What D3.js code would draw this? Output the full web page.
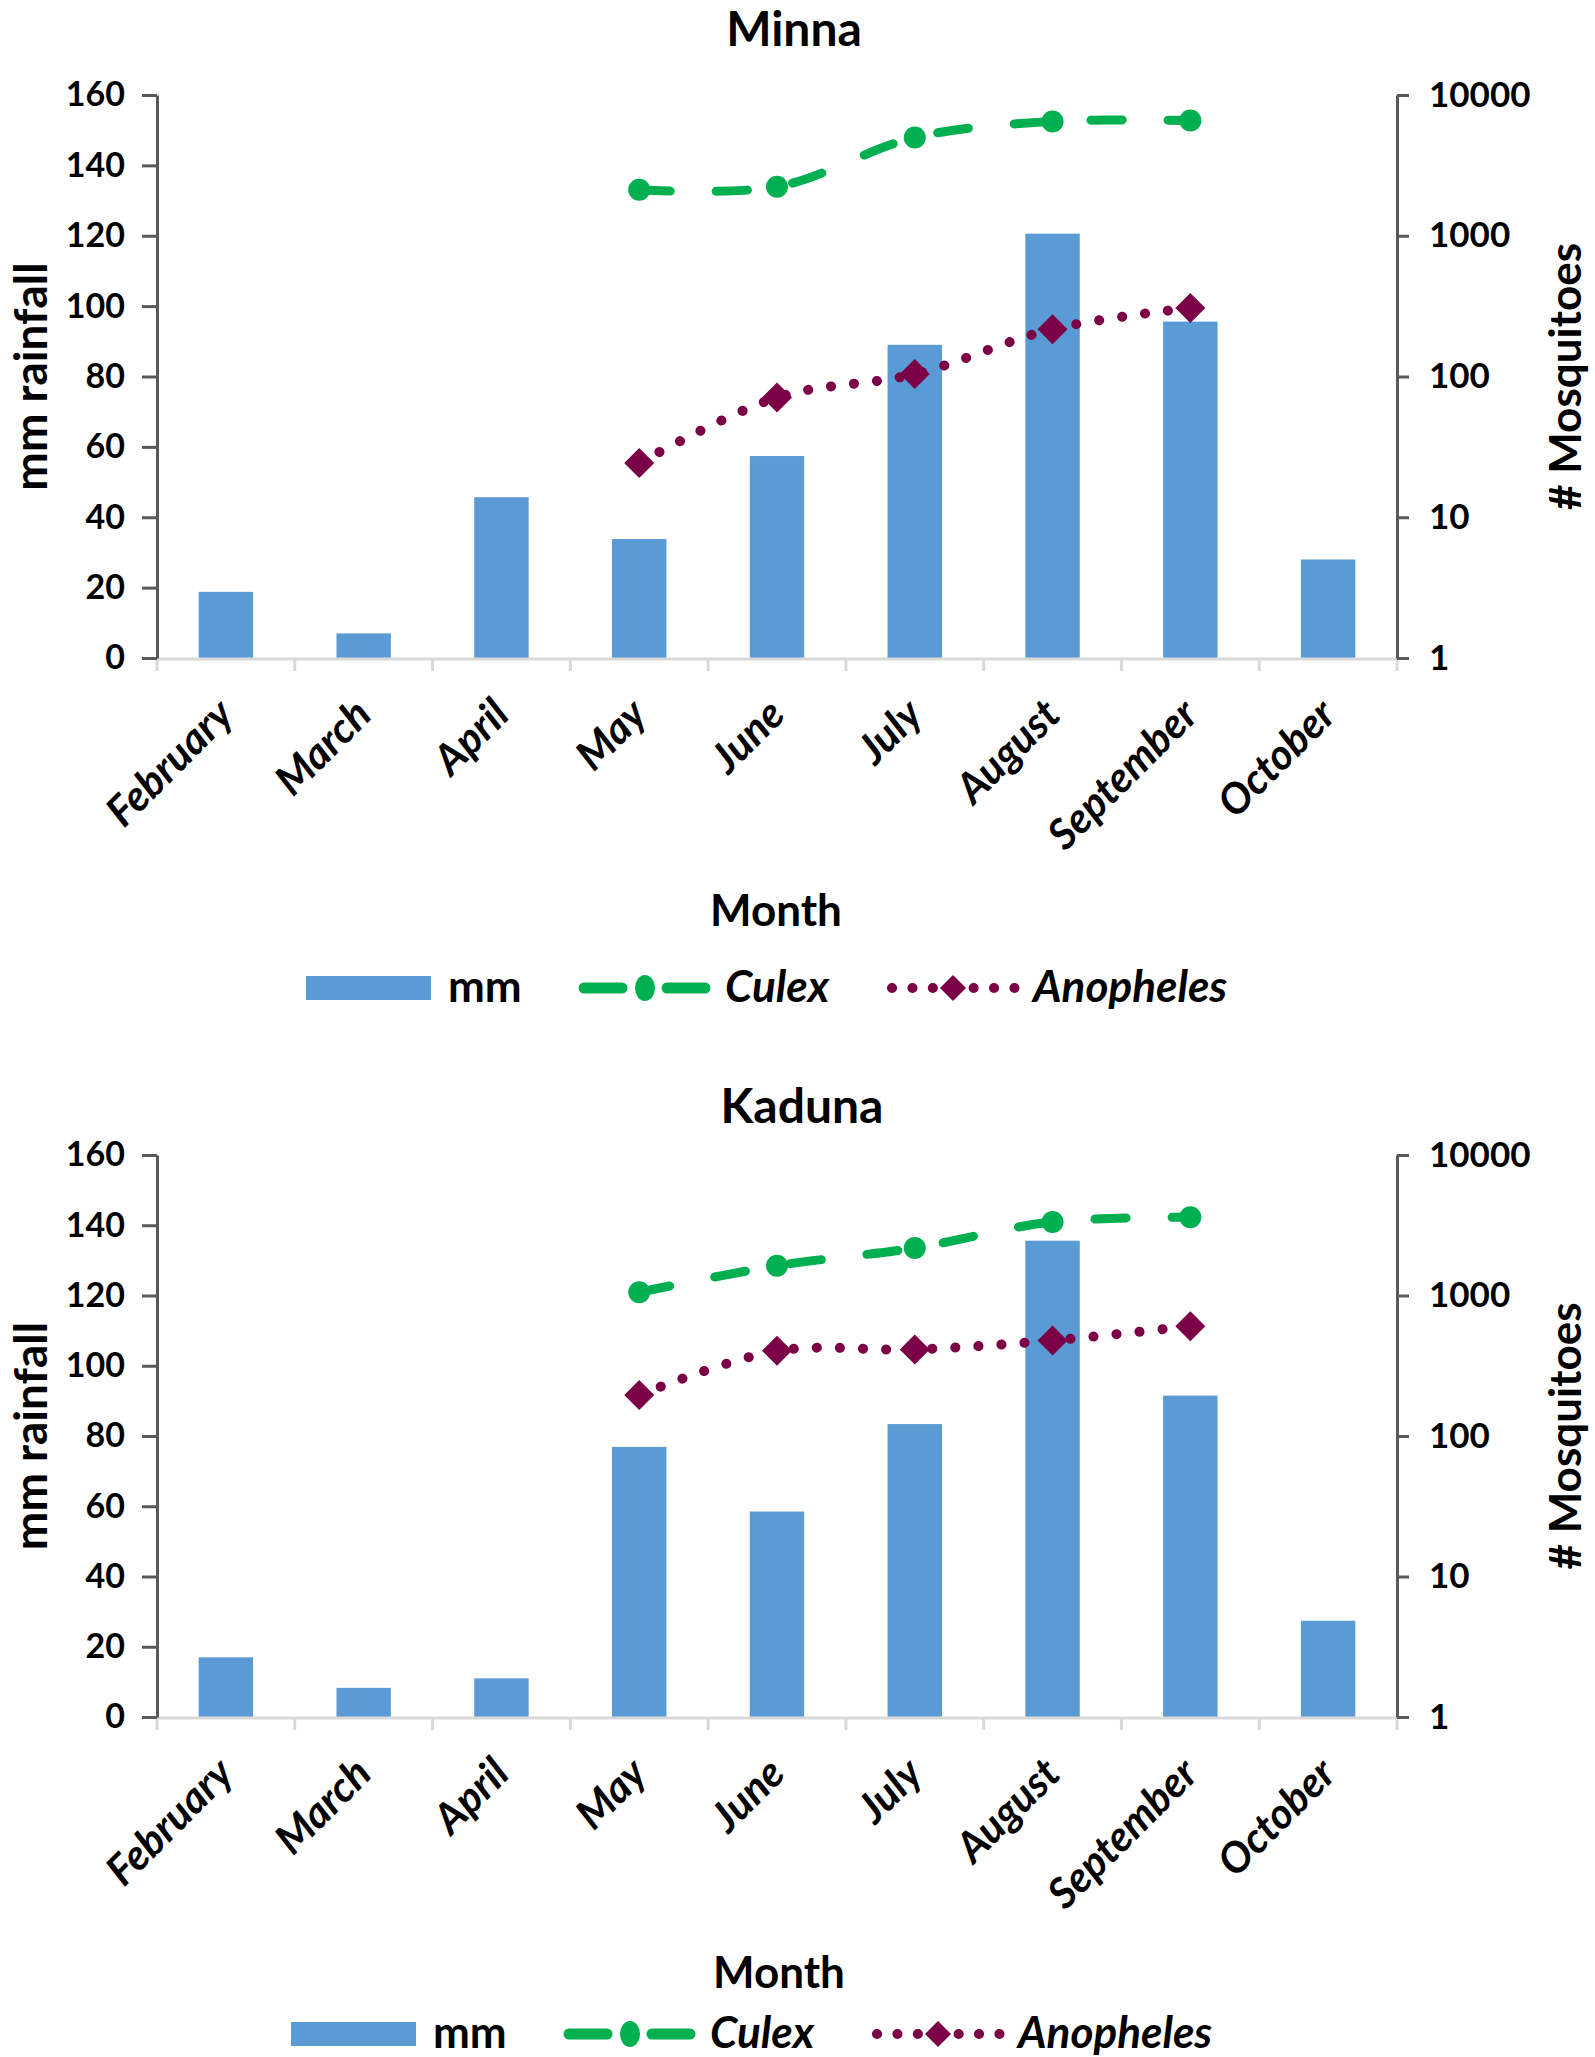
<!DOCTYPE html>
<html>
<head>
<meta charset="utf-8">
<script src="https://cdn.jsdelivr.net/npm/d3@7"></script>
<style>
  html, body { margin: 0; padding: 0; background: #fff; }
  svg { display: block; }
  text { font-family: Lato, "Open Sans", sans-serif; fill: #000; }
</style>
</head>
<body>
<div id="chart"></div>
<script>
// ---------------- DATA ----------------
const months = ["February","March","April","May","June","July","August","September","October"];
const leftTicks = [0,20,40,60,80,100,120,140,160];
const rightTicks = [1,10,100,1000,10000];
const seriesNames = ["mm","Culex","Anopheles"];

const minnaRain   = [18.8, 7.0, 45.7, 33.8, 57.4, 89.0, 120.6, 95.6, 28.0];
const minnaCulex  = [null, null, null, 2120, 2230, 4990, 6490, 6590, null];
const minnaAnoph  = [null, null, null, 24.3, 71, 104, 217, 307, null];

const kadunaRain  = [17.0, 8.3, 11.0, 76.9, 58.5, 83.4, 135.6, 91.5, 27.4];
const kadunaCulex = [null, null, null, 1055, 1630, 2180, 3340, 3600, null];
const kadunaAnoph = [null, null, null, 196, 404, 413, 479, 605, null];

// ---------------- LAYOUT ----------------
const W = 1595, H = 2057;
const plotLeft = 157, plotRight = 1397;
const barColor = "#5B9BD5", culexColor = "#00B050", anophColor = "#7B0046";

const panels = [
  { title: "Minna", rain: minnaRain, culex: minnaCulex, anoph: minnaAnoph,
    top: 95, bottom: 658, titleX: 794, titleY: 46, monthX: 776, monthY: 926,
    legendX: 306, legendY: 988 },
  { title: "Kaduna", rain: kadunaRain, culex: kadunaCulex, anoph: kadunaAnoph,
    top: 1155, bottom: 1717, titleX: 802, titleY: 1123, monthX: 779, monthY: 1988,
    legendX: 291, legendY: 2034 }
];

const svg = d3.select("#chart").append("svg")
  .attr("width", W).attr("height", H).attr("viewBox", `0 0 ${W} ${H}`);

const x = d3.scaleBand().domain(months).range([plotLeft, plotRight]).paddingInner(0).paddingOuter(0);
const barW = x.bandwidth() * 0.395;

function diamondPath(r) {
  return `M0,${-r}L${r},0L0,${r}L${-r},0Z`;
}

panels.forEach(p => {
  const g = svg.append("g");
  const yL = d3.scaleLinear().domain([0,160]).range([p.bottom, p.top]);
  const yR = d3.scaleLog().domain([1,10000]).range([p.bottom, p.top]);

  // Title
  g.append("text").attr("x", p.titleX).attr("y", p.titleY)
    .attr("text-anchor","middle").attr("font-size", 48).attr("font-weight", 700)
    .text(p.title);

  // Bars
  g.selectAll("rect.bar").data(months).enter().append("rect")
    .attr("class","bar")
    .attr("x", (m) => x(m) + (x.bandwidth() - barW)/2)
    .attr("width", barW)
    .attr("y", (m,i) => yL(p.rain[i]))
    .attr("height", (m,i) => yL(0) - yL(p.rain[i]))
    .attr("fill", barColor);

  // X axis line (light gray) and boundary ticks
  g.append("line").attr("x1", plotLeft).attr("x2", plotRight)
    .attr("y1", p.bottom + 1).attr("y2", p.bottom + 1)
    .attr("stroke", "#d9d9d9").attr("stroke-width", 3);
  const bounds = months.map(m => x(m)).concat([plotRight]);
  g.selectAll("line.xt").data(bounds).enter().append("line")
    .attr("class","xt")
    .attr("x1", d => d).attr("x2", d => d)
    .attr("y1", p.bottom + 1).attr("y2", p.bottom + 13)
    .attr("stroke", "#d9d9d9").attr("stroke-width", 3);

  // Month labels (rotated)
  g.selectAll("text.mlab").data(months).enter().append("text")
    .attr("class","mlab")
    .attr("transform", m => `translate(${x(m) + x.bandwidth()/2 + 10},${p.bottom + 59}) rotate(-45)`)
    .attr("text-anchor","end")
    .attr("font-size", 42).attr("font-weight", 700).attr("font-style","italic")
    .text(m => m);

  // Left axis
  const axL = g.append("g").attr("transform", `translate(${plotLeft},0)`)
    .call(d3.axisLeft(yL).tickValues(leftTicks).tickSize(15).tickPadding(17).tickSizeOuter(0));
  axL.select(".domain").attr("stroke", "#595959").attr("stroke-width", 3);
  axL.selectAll(".tick line").attr("stroke", "#595959").attr("stroke-width", 3);
  axL.selectAll(".tick text").attr("font-size", 34).attr("font-weight", 700)
    .attr("font-family", "Lato, sans-serif").attr("fill", "#000");

  // Right axis
  const axR = g.append("g").attr("transform", `translate(${plotRight},0)`)
    .call(d3.axisRight(yR).tickValues(rightTicks).tickFormat(d3.format("d")).tickSize(12).tickPadding(20).tickSizeOuter(0));
  axR.select(".domain").attr("stroke", "#595959").attr("stroke-width", 3);
  axR.selectAll(".tick line").attr("stroke", "#595959").attr("stroke-width", 3);
  axR.selectAll(".tick text").attr("font-size", 35).attr("font-weight", 700)
    .attr("font-family", "Lato, sans-serif").attr("fill", "#000");

  // Axis titles
  const midY = (p.top + p.bottom) / 2;
  g.append("text").attr("transform", `translate(47,${midY}) rotate(-90)`)
    .attr("text-anchor","middle").attr("font-size", 46).attr("font-weight", 700)
    .text("mm rainfall");
  g.append("text").attr("transform", `translate(1581,${midY}) rotate(-90)`)
    .attr("text-anchor","middle").attr("font-size", 44).attr("font-weight", 700)
    .text("# Mosquitoes");
  g.append("text").attr("x", p.monthX).attr("y", p.monthY)
    .attr("text-anchor","middle").attr("font-size", 44).attr("font-weight", 700)
    .text("Month");

  // Lines
  const cx = m => x(m) + x.bandwidth()/2;
  const culexPts = months.map((m,i) => ({m, v: p.culex[i]})).filter(d => d.v != null);
  const anophPts = months.map((m,i) => ({m, v: p.anoph[i]})).filter(d => d.v != null);
  const line = d3.line().x(d => cx(d.m)).y(d => yR(d.v)).curve(d3.curveCatmullRom.alpha(0.5));

  g.append("path").datum(anophPts).attr("d", line)
    .attr("fill","none").attr("stroke", anophColor).attr("stroke-width", 10)
    .attr("stroke-linecap","round").attr("stroke-dasharray","0.1 23");
  g.selectAll("path.dia").data(anophPts).enter().append("path")
    .attr("class","dia")
    .attr("transform", d => `translate(${cx(d.m)},${yR(d.v)})`)
    .attr("d", diamondPath(15)).attr("fill", anophColor);

  g.append("path").datum(culexPts).attr("d", line)
    .attr("fill","none").attr("stroke", culexColor).attr("stroke-width", 9)
    .attr("stroke-linecap","round").attr("stroke-dasharray","31 46");
  g.selectAll("circle.cm").data(culexPts).enter().append("circle")
    .attr("class","cm")
    .attr("cx", d => cx(d.m)).attr("cy", d => yR(d.v)).attr("r", 11)
    .attr("fill", culexColor);

  // Legend
  const lg = g.append("g").attr("transform", `translate(${p.legendX},${p.legendY})`);
  lg.append("rect").attr("x", 0).attr("y", -12).attr("width", 125).attr("height", 24).attr("fill", barColor);
  lg.append("text").attr("x", 142).attr("y", 14).attr("font-size", 44).attr("font-weight", 700).text(seriesNames[0]);

  // Culex symbol
  lg.append("line").attr("x1", 278).attr("x2", 316).attr("y1", 0).attr("y2", 0)
    .attr("stroke", culexColor).attr("stroke-width", 11).attr("stroke-linecap","round");
  lg.append("line").attr("x1", 361).attr("x2", 399).attr("y1", 0).attr("y2", 0)
    .attr("stroke", culexColor).attr("stroke-width", 11).attr("stroke-linecap","round");
  lg.append("ellipse").attr("cx", 339).attr("cy", 0).attr("rx", 10).attr("ry", 13).attr("fill", culexColor);
  lg.append("text").attr("x", 419).attr("y", 14).attr("font-size", 44).attr("font-weight", 700)
    .attr("font-style","italic").text(seriesNames[1]);

  // Anopheles symbol
  lg.append("line").attr("x1", 586).attr("x2", 710).attr("y1", 0).attr("y2", 0)
    .attr("stroke", anophColor).attr("stroke-width", 10).attr("stroke-linecap","round")
    .attr("stroke-dasharray","0.1 20.3");
  lg.append("path").attr("transform", "translate(647,0)").attr("d", diamondPath(13)).attr("fill", anophColor);
  lg.append("text").attr("x", 727).attr("y", 14).attr("font-size", 44).attr("font-weight", 700)
    .attr("font-style","italic").text(seriesNames[2]);
});
</script>
</body>
</html>
